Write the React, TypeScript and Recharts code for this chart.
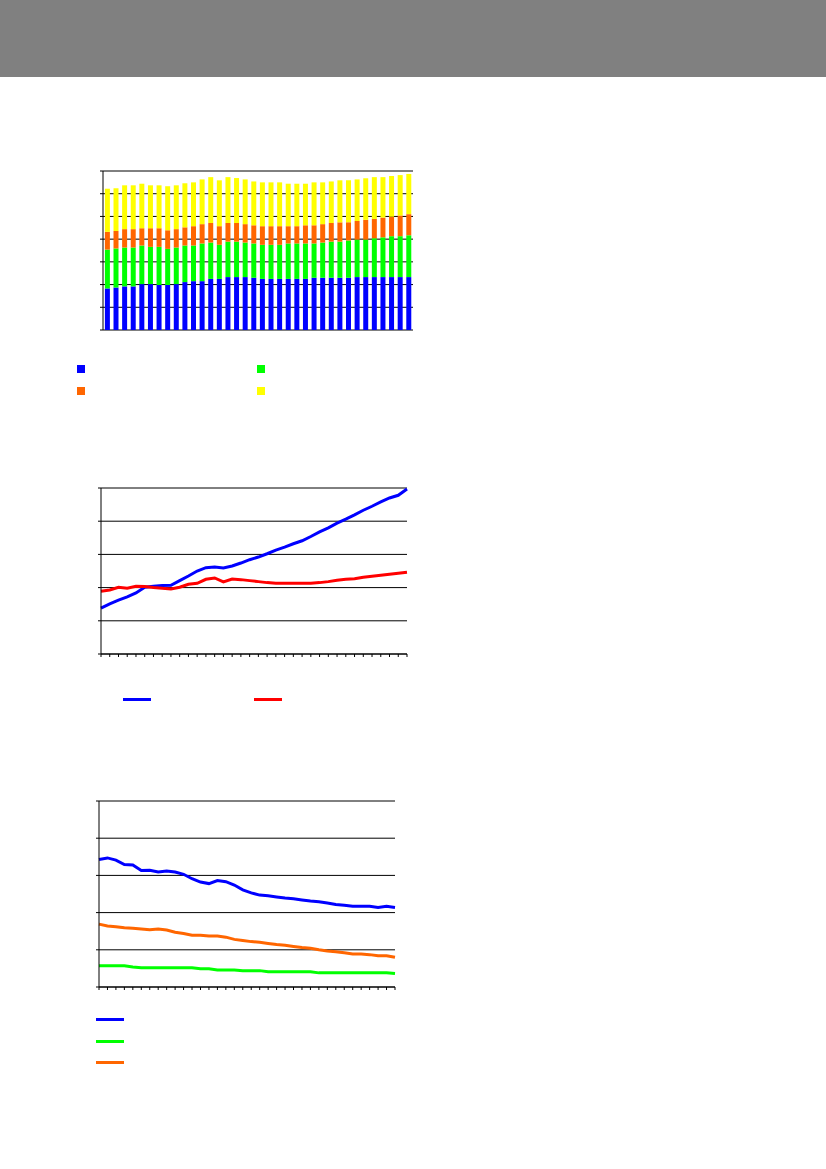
import React from "react";
import { Bar, BarChart, CartesianGrid, Line, LineChart, XAxis, YAxis } from "recharts";

// 36 periods, labels are not printed in the source image
const periods = [
  "1", "2", "3", "4", "5", "6", "7", "8", "9", "10", "11", "12",
  "13", "14", "15", "16", "17", "18", "19", "20", "21", "22", "23", "24",
  "25", "26", "27", "28", "29", "30", "31", "32", "33", "34", "35", "36",
];

// chart 1: stacked segments
const stackBlue = [1.83, 1.87, 1.92, 1.92, 2.02, 2.02, 1.98, 1.98, 2.02, 2.11, 2.15, 2.15, 2.25, 2.25, 2.33, 2.33, 2.33, 2.3, 2.25, 2.25, 2.25, 2.25, 2.25, 2.25, 2.3, 2.3, 2.3, 2.3, 2.3, 2.33, 2.33, 2.33, 2.33, 2.33, 2.33, 2.33];
const stackGreen = [1.71, 1.72, 1.71, 1.71, 1.7, 1.64, 1.68, 1.59, 1.61, 1.61, 1.57, 1.66, 1.6, 1.5, 1.56, 1.56, 1.52, 1.51, 1.5, 1.5, 1.5, 1.56, 1.56, 1.56, 1.51, 1.55, 1.59, 1.59, 1.64, 1.65, 1.65, 1.71, 1.75, 1.8, 1.8, 1.84];
const stackOrange = [0.78, 0.77, 0.81, 0.81, 0.76, 0.82, 0.82, 0.82, 0.81, 0.8, 0.85, 0.85, 0.86, 0.82, 0.82, 0.82, 0.81, 0.8, 0.82, 0.82, 0.82, 0.76, 0.76, 0.8, 0.8, 0.81, 0.82, 0.85, 0.8, 0.82, 0.87, 0.85, 0.87, 0.86, 0.91, 0.93];
const stackYellow = [1.9, 1.88, 1.93, 1.93, 1.96, 1.89, 1.89, 1.94, 1.93, 1.94, 1.93, 1.97, 2.02, 2.02, 2.02, 1.98, 1.97, 1.93, 1.93, 1.93, 1.93, 1.87, 1.87, 1.83, 1.89, 1.84, 1.83, 1.85, 1.85, 1.83, 1.83, 1.84, 1.78, 1.79, 1.78, 1.77];
const stackTicks = [0, 1, 2, 3, 4, 5, 6, 7];

// chart 2
const riseBlue = [1.38, 1.51, 1.62, 1.72, 1.84, 2.01, 2.04, 2.06, 2.07, 2.21, 2.35, 2.5, 2.6, 2.62, 2.59, 2.65, 2.74, 2.84, 2.92, 3.02, 3.13, 3.22, 3.32, 3.41, 3.54, 3.68, 3.8, 3.94, 4.06, 4.19, 4.33, 4.45, 4.58, 4.7, 4.78, 4.97];
const riseRed = [1.89, 1.93, 2.01, 1.98, 2.04, 2.03, 2.0, 1.98, 1.96, 2.01, 2.1, 2.13, 2.25, 2.29, 2.17, 2.26, 2.24, 2.21, 2.18, 2.15, 2.13, 2.13, 2.13, 2.13, 2.13, 2.15, 2.18, 2.22, 2.25, 2.27, 2.31, 2.34, 2.37, 2.4, 2.43, 2.46];

// chart 3
const fallBlue = [3.43, 3.47, 3.41, 3.29, 3.28, 3.13, 3.14, 3.09, 3.12, 3.09, 3.03, 2.91, 2.82, 2.78, 2.86, 2.83, 2.74, 2.61, 2.53, 2.47, 2.45, 2.42, 2.39, 2.37, 2.34, 2.31, 2.29, 2.26, 2.22, 2.2, 2.17, 2.17, 2.17, 2.14, 2.17, 2.14];
const fallGreen = [0.57, 0.57, 0.57, 0.57, 0.54, 0.52, 0.52, 0.52, 0.52, 0.52, 0.52, 0.52, 0.49, 0.49, 0.46, 0.46, 0.46, 0.44, 0.44, 0.44, 0.41, 0.41, 0.41, 0.41, 0.41, 0.41, 0.38, 0.38, 0.38, 0.38, 0.38, 0.38, 0.38, 0.38, 0.38, 0.36];
const fallOrange = [1.69, 1.64, 1.62, 1.59, 1.58, 1.56, 1.54, 1.56, 1.53, 1.47, 1.44, 1.39, 1.39, 1.37, 1.37, 1.34, 1.28, 1.25, 1.22, 1.2, 1.17, 1.14, 1.12, 1.09, 1.06, 1.04, 1.0, 0.97, 0.95, 0.92, 0.89, 0.89, 0.87, 0.84, 0.84, 0.8];
const lineTicks = [0, 1, 2, 3, 4, 5];

const BLUE = "#0000FF";
const GREEN = "#00FF00";
const ORANGE = "#FF6600";
const YELLOW = "#FFFF00";
const RED = "#FF0000";

const stackData = periods.map((label, i) => ({
  label,
  i: i + 0.5,
  blue: stackBlue[i],
  green: stackGreen[i],
  orange: stackOrange[i],
  yellow: stackYellow[i],
}));
const riseData = periods.map((label, i) => ({ label, blue: riseBlue[i], red: riseRed[i] }));
const fallData = periods.map((label, i) => ({ label, blue: fallBlue[i], green: fallGreen[i], orange: fallOrange[i] }));
const edgeTicks = [...periods.map((_, i) => i), periods.length];

// the axes take 10px left / 10px bottom, so margin only on the other sides
const m = { top: 10, right: 10, bottom: 0, left: 0 };
const axisLine = { stroke: "#000", strokeWidth: 1 };
const tickLine = { stroke: "#000", strokeWidth: 1 };
// the source prints no tick labels, only the tick marks
const noLabel = () => <g />;

const place = (left: number, top: number): React.CSSProperties => ({ position: "absolute", left, top });

function Swatch({ left, top, color, w, h }: { left: number; top: number; color: string; w: number; h: number }) {
  return <div style={{ ...place(left, top), width: w, height: h, background: color }} />;
}

export default function App() {
  return (
    <div style={{ position: "absolute", left: 0, top: 0, width: 826, height: 1169, background: "#fff", overflow: "hidden" }}>
      <div style={{ ...place(0, 0), width: 826, height: 77, background: "#808080" }} />

      <div style={place(93, 161)}>
        <BarChart width={330} height={179} data={stackData} margin={m} barCategoryGap="22%">
          <CartesianGrid vertical={false} stroke="#000" strokeOpacity={1} xAxisId="cat" />
          <XAxis xAxisId="cat" dataKey="label" hide />
          <XAxis xAxisId="edge" dataKey="i" type="number" domain={[0, 36]} ticks={edgeTicks} interval={0} tick={noLabel} tickSize={3} height={10} axisLine={axisLine} tickLine={tickLine} allowDataOverflow />
          <YAxis domain={[0, 7]} ticks={stackTicks} interval={0} tick={noLabel} tickSize={3} width={10} axisLine={axisLine} tickLine={tickLine} />
          <Bar xAxisId="cat" dataKey="blue" stackId="s" fill={BLUE} isAnimationActive={false} />
          <Bar xAxisId="cat" dataKey="green" stackId="s" fill={GREEN} isAnimationActive={false} />
          <Bar xAxisId="cat" dataKey="orange" stackId="s" fill={ORANGE} isAnimationActive={false} />
          <Bar xAxisId="cat" dataKey="yellow" stackId="s" fill={YELLOW} isAnimationActive={false} />
        </BarChart>
      </div>
      <Swatch left={77} top={365} w={8} h={8} color={BLUE} />
      <Swatch left={257} top={365} w={8} h={8} color={GREEN} />
      <Swatch left={77} top={387} w={8} h={8} color={ORANGE} />
      <Swatch left={257} top={387} w={8} h={8} color={YELLOW} />

      <div style={place(91, 478)}>
        <LineChart width={326} height={186} data={riseData} margin={m}>
          <CartesianGrid vertical={false} stroke="#000" strokeOpacity={1} />
          <XAxis dataKey="label" interval={0} tick={noLabel} tickSize={3} height={10} axisLine={axisLine} tickLine={tickLine} />
          <YAxis domain={[0, 5]} ticks={lineTicks} interval={0} tick={noLabel} tickSize={3} width={10} axisLine={axisLine} tickLine={tickLine} />
          <Line dataKey="blue" type="linear" stroke={BLUE} strokeWidth={3} dot={false} isAnimationActive={false} />
          <Line dataKey="red" type="linear" stroke={RED} strokeWidth={3} dot={false} isAnimationActive={false} />
        </LineChart>
      </div>
      <Swatch left={123} top={698} w={28} h={3} color={BLUE} />
      <Swatch left={254} top={698} w={28} h={3} color={RED} />

      <div style={place(89, 791)}>
        <LineChart width={316} height={206} data={fallData} margin={m}>
          <CartesianGrid vertical={false} stroke="#000" strokeOpacity={1} />
          <XAxis dataKey="label" interval={0} tick={noLabel} tickSize={3} height={10} axisLine={axisLine} tickLine={tickLine} />
          <YAxis domain={[0, 5]} ticks={lineTicks} interval={0} tick={noLabel} tickSize={3} width={10} axisLine={axisLine} tickLine={tickLine} />
          <Line dataKey="blue" type="linear" stroke={BLUE} strokeWidth={3} dot={false} isAnimationActive={false} />
          <Line dataKey="green" type="linear" stroke={GREEN} strokeWidth={3} dot={false} isAnimationActive={false} />
          <Line dataKey="orange" type="linear" stroke={ORANGE} strokeWidth={3} dot={false} isAnimationActive={false} />
        </LineChart>
      </div>
      <Swatch left={96} top={1018} w={28} h={3} color={BLUE} />
      <Swatch left={96} top={1040} w={28} h={3} color={GREEN} />
      <Swatch left={96} top={1061} w={28} h={3} color={ORANGE} />
    </div>
  );
}
